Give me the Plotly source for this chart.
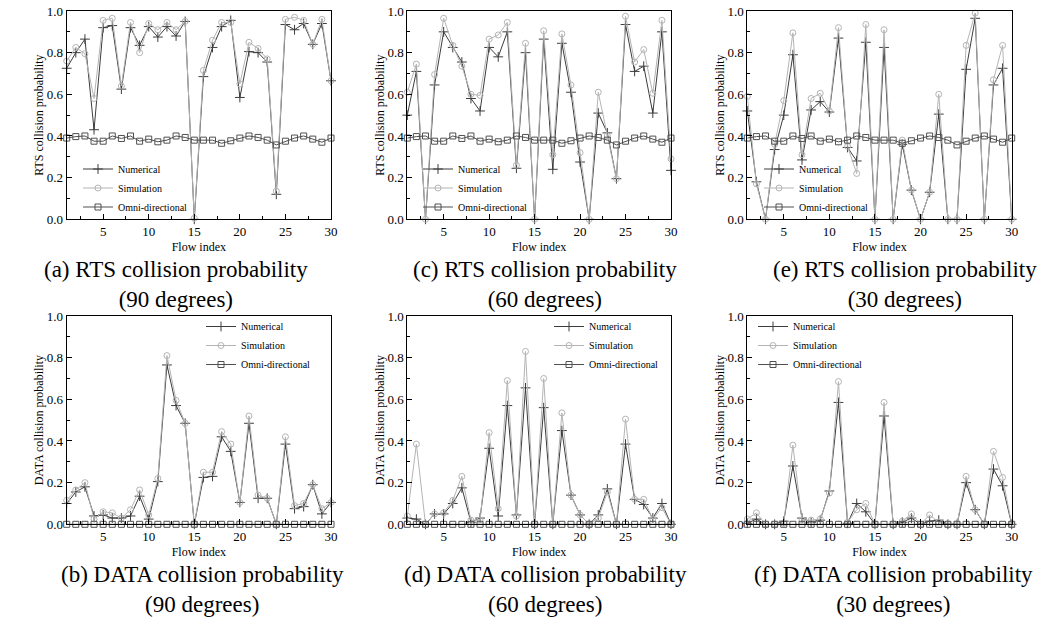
import plotly.graph_objects as go
from plotly.subplots import make_subplots

flow = list(range(1, 31))

# RTS collision probability
rts90_num = [0.725, 0.80, 0.865, 0.43, 0.92, 0.93, 0.625, 0.92, 0.835, 0.925,
             0.875, 0.925, 0.88, 0.95, 0.0, 0.685, 0.825, 0.925, 0.955, 0.585,
             0.805, 0.80, 0.755, 0.12, 0.935, 0.91, 0.94, 0.84, 0.94, 0.665]
rts90_sim = [0.76, 0.825, 0.795, 0.58, 0.955, 0.965, 0.64, 0.945, 0.80, 0.94,
             0.91, 0.945, 0.91, 0.95, 0.005, 0.715, 0.86, 0.945, 0.945, 0.65,
             0.85, 0.82, 0.77, 0.135, 0.96, 0.97, 0.955, 0.84, 0.96, 0.665]
rts60_num = [0.50, 0.71, 0.0, 0.645, 0.90, 0.825, 0.755, 0.58, 0.52, 0.825,
             0.78, 0.90, 0.245, 0.80, 0.0, 0.865, 0.24, 0.845, 0.61, 0.275,
             0.0, 0.51, 0.415, 0.195, 0.935, 0.71, 0.735, 0.51, 0.90, 0.235]
rts60_sim = [0.61, 0.745, 0.0, 0.695, 0.965, 0.835, 0.735, 0.60, 0.595, 0.865,
             0.885, 0.945, 0.26, 0.845, 0.0, 0.905, 0.31, 0.89, 0.645, 0.32,
             0.0, 0.61, 0.40, 0.195, 0.975, 0.755, 0.815, 0.605, 0.955, 0.29]
rts30_num = [0.52, 0.18, 0.0, 0.335, 0.50, 0.79, 0.285, 0.525, 0.565, 0.515,
             0.87, 0.345, 0.28, 0.85, 0.0, 0.825, 0.0, 0.36, 0.14, 0.0,
             0.13, 0.505, 0.0, 0.0, 0.72, 0.965, 0.0, 0.645, 0.725, 0.0]
rts30_sim = [0.59, 0.17, 0.0, 0.36, 0.57, 0.895, 0.31, 0.58, 0.605, 0.52,
             0.92, 0.35, 0.22, 0.935, 0.0, 0.91, 0.0, 0.38, 0.14, 0.0,
             0.13, 0.60, 0.0, 0.0, 0.835, 0.99, 0.0, 0.67, 0.835, 0.0]
rts_omni = [0.39, 0.397, 0.40, 0.375, 0.375, 0.40, 0.388, 0.40, 0.375, 0.385,
            0.372, 0.38, 0.40, 0.393, 0.38, 0.38, 0.38, 0.365, 0.377, 0.39,
            0.40, 0.393, 0.38, 0.357, 0.375, 0.39, 0.40, 0.385, 0.37, 0.39]

# DATA collision probability
data90_num = [0.10, 0.155, 0.18, 0.04, 0.045, 0.03, 0.03, 0.04, 0.135, 0.025,
              0.205, 0.765, 0.57, 0.485, 0.0, 0.225, 0.23, 0.42, 0.35, 0.105,
              0.485, 0.125, 0.125, 0.0, 0.385, 0.075, 0.085, 0.19, 0.05, 0.105]
data90_sim = [0.115, 0.165, 0.20, 0.025, 0.06, 0.055, 0.03, 0.07, 0.165, 0.045,
              0.22, 0.81, 0.595, 0.485, 0.0, 0.25, 0.25, 0.445, 0.385, 0.105,
              0.52, 0.14, 0.125, 0.0, 0.42, 0.09, 0.10, 0.19, 0.075, 0.105]
data60_num = [0.03, 0.025, 0.0, 0.05, 0.05, 0.10, 0.175, 0.01, 0.03, 0.365,
              0.04, 0.57, 0.045, 0.655, 0.0, 0.56, 0.0, 0.45, 0.14, 0.045,
              0.0, 0.045, 0.17, 0.0, 0.385, 0.12, 0.095, 0.03, 0.10, 0.0]
data60_sim = [0.04, 0.385, 0.0, 0.05, 0.055, 0.115, 0.23, 0.02, 0.02, 0.44,
              0.075, 0.69, 0.04, 0.83, 0.0, 0.70, 0.0, 0.535, 0.14, 0.045,
              0.0, 0.03, 0.155, 0.0, 0.505, 0.12, 0.12, 0.025, 0.08, 0.0]
data30_num = [0.005, 0.025, 0.0, 0.0, 0.015, 0.28, 0.03, 0.01, 0.02, 0.16,
              0.585, 0.005, 0.10, 0.06, 0.0, 0.52, 0.0, 0.01, 0.03, 0.0,
              0.015, 0.02, 0.0, 0.0, 0.20, 0.07, 0.0, 0.265, 0.185, 0.0]
data30_sim = [0.025, 0.055, 0.0, 0.0, 0.005, 0.38, 0.02, 0.02, 0.025, 0.15,
              0.685, 0.01, 0.07, 0.10, 0.0, 0.585, 0.0, 0.015, 0.05, 0.0,
              0.045, 0.01, 0.0, 0.0, 0.23, 0.07, 0.0, 0.35, 0.225, 0.0]
data_omni = [0.0, 0.0, 0.0, 0.0, 0.0, 0.0, 0.0, 0.0, 0.0, 0.0,
             0.0, 0.0, 0.0, 0.0, 0.0, 0.0, 0.0, 0.0, 0.0, 0.0,
             0.0, 0.0, 0.0, 0.0, 0.0, 0.0, 0.0, 0.0, 0.0, 0.0]

captions = ["(a) RTS collision probability<br>(90 degrees)",
            "(c) RTS collision probability<br>(60 degrees)",
            "(e) RTS collision probability<br>(30 degrees)",
            "(b) DATA collision probability<br>(90 degrees)",
            "(d) DATA collision probability<br>(60 degrees)",
            "(f) DATA collision probability<br>(30 degrees)"]

panels = [
    (1, 1, rts90_num, rts90_sim, rts_omni, "RTS collision probability"),
    (1, 2, rts60_num, rts60_sim, rts_omni, "RTS collision probability"),
    (1, 3, rts30_num, rts30_sim, rts_omni, "RTS collision probability"),
    (2, 1, data90_num, data90_sim, data_omni, "DATA collision probability"),
    (2, 2, data60_num, data60_sim, data_omni, "DATA collision probability"),
    (2, 3, data30_num, data30_sim, data_omni, "DATA collision probability"),
]

SERIF = "Liberation Serif, Times New Roman, serif"
W, H = 1045, 625


def px_x(px):
    return px / W


def px_y(py):
    return 1 - py / H


# pixel boxes of each plot area
col_px = [(66.7, 331.0), (407.3, 671.0), (747.3, 1011.7)]
row_px = [(11.0, 219.3), (316.0, 524.3)]
# legend top-left
legend_px = [(78, 154.5), (418, 154.5), (759, 154.5), (201, 312), (549, 312), (753, 312)]
# caption centres
caption_px = [(175.5, 284), (545, 284), (905, 284), (202.5, 589), (545, 589), (893, 589)]

fig = make_subplots(rows=2, cols=3)

for i, (r, c, num, sim, omni, ytitle) in enumerate(panels):
    lg = "legend" if i == 0 else f"legend{i + 1}"
    fig.add_trace(go.Scatter(
        x=flow, y=num, name="Numerical", mode="lines+markers", legend=lg,
        line=dict(color="#3c3c3c", width=1), cliponaxis=False,
        marker=dict(symbol="cross-thin-open", size=7, line=dict(color="#3c3c3c", width=1))),
        row=r, col=c)
    fig.add_trace(go.Scatter(
        x=flow, y=sim, name="Simulation", mode="lines+markers", legend=lg,
        line=dict(color="#b4b4b4", width=1), cliponaxis=False,
        marker=dict(symbol="circle-open", size=6, color="#b4b4b4", line=dict(width=1))),
        row=r, col=c)
    fig.add_trace(go.Scatter(
        x=flow, y=omni, name="Omni-directional", mode="lines+markers", legend=lg,
        line=dict(color="#505050", width=1), cliponaxis=False,
        marker=dict(symbol="square-open", size=6, color="#505050", line=dict(width=1))),
        row=r, col=c)

    x0, x1 = col_px[c - 1]
    y0, y1 = row_px[r - 1]
    fig.update_xaxes(
        domain=[px_x(x0), px_x(x1)], range=[1, 30], tick0=0, dtick=5,
        ticks="inside", ticklen=5, tickcolor="black", automargin=False,
        ticklabeloverflow="allow",
        minor=dict(dtick=2.5, ticks="inside", ticklen=3, tickcolor="black"),
        showline=True, linecolor="black", linewidth=1, mirror=True,
        showgrid=False, zeroline=False,
        tickfont=dict(family=SERIF, size=13, color="black"),
        title=dict(text="Flow index", standoff=4, font=dict(family=SERIF, size=12, color="black")),
        row=r, col=c)
    fig.update_yaxes(
        domain=[px_y(y1), px_y(y0)], range=[0, 1], dtick=0.2, tickformat=".1f",
        ticks="inside", ticklen=5, tickcolor="black", automargin=False,
        ticklabeloverflow="allow",
        minor=dict(dtick=0.1, ticks="inside", ticklen=3, tickcolor="black"),
        showline=True, linecolor="black", linewidth=1, mirror=True,
        showgrid=False, zeroline=False,
        tickfont=dict(family=SERIF, size=13, color="black"),
        title=dict(text=ytitle, standoff=0, font=dict(family=SERIF, size=12, color="black")),
        row=r, col=c)

    lx, ly = legend_px[i]
    fig.layout[lg] = dict(
        x=px_x(lx), y=px_y(ly), xanchor="left", yanchor="top",
        bgcolor="rgba(0,0,0,0)", borderwidth=0, itemwidth=30,
        font=dict(family=SERIF, size=10, color="black"), tracegroupgap=0)

    cx, cy = caption_px[i]
    fig.add_annotation(
        text=captions[i], xref="paper", yref="paper", x=px_x(cx), y=px_y(cy),
        xanchor="center", yanchor="middle", showarrow=False, align="center",
        font=dict(family=SERIF, size=23, color="black"))

fig.update_layout(
    width=W, height=H, margin=dict(l=0, r=0, t=0, b=0, autoexpand=False),
    paper_bgcolor="white", plot_bgcolor="white", showlegend=True)

# drop the default 8px body margin so the figure fills the window
fig.write_html("out.html", config={"displayModeBar": False},
               post_script="document.body.style.margin = '0';")
